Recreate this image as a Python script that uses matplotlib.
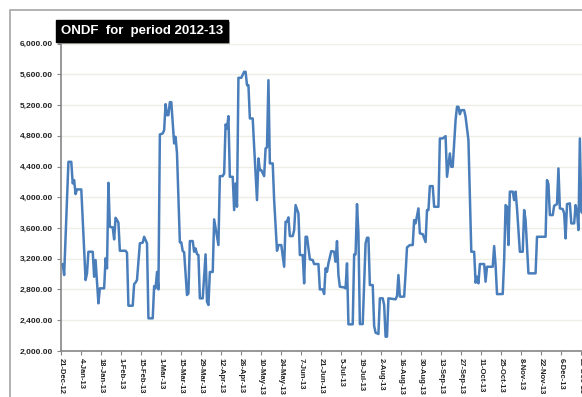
import pandas as pd
import matplotlib.pyplot as plt
from matplotlib.patches import Rectangle
import matplotlib.patheffects as pe

# days since 21-Dec-12 and ONDF values
days = [0, 1, 2, 5, 7, 8, 9, 10, 11, 14, 15, 17, 18, 19, 22, 23, 24, 26, 27, 30,
        31, 32, 33, 34, 36, 37, 38, 39, 40, 41, 45, 46, 47, 50, 51, 52, 53, 55, 57, 58,
        60, 61, 64, 65, 66, 67, 68, 69, 71, 72, 73, 74, 75, 76, 77, 79, 80, 81, 83, 84,
        85, 86, 88, 89, 90, 92, 93, 94, 95, 96, 97, 99, 101, 102, 103, 104, 106, 107, 109, 110,
        111, 113, 114, 115, 116, 117, 118, 120, 121, 122, 123, 124, 126, 128, 129, 130, 131, 132, 134, 135,
        137, 138, 139, 140, 142, 143, 144, 145, 146, 148, 149, 151, 152, 154, 156, 157, 158, 159, 160, 162,
        163, 164, 165, 166, 167, 169, 170, 171, 172, 174, 176, 177, 180, 181, 183, 184, 185, 186, 187, 189,
        191, 192, 193, 194, 195, 198, 199, 200, 201, 204, 205, 206, 207, 208, 209, 211, 213, 214, 215, 216,
        218, 219, 220, 222, 223, 225, 226, 227, 228, 229, 234, 235, 236, 237, 240, 241, 242, 244, 246, 247,
        248, 250, 251, 253, 255, 256, 257, 258, 260, 261, 264, 265, 267, 269, 270, 272, 273, 274, 276, 277,
        278, 279, 280, 282, 283, 285, 287, 289, 290, 291, 292, 293, 296, 297, 298, 302, 303, 304, 305, 309,
        310, 311, 312, 313, 314, 316, 317, 318, 319, 321, 323, 324, 325, 327, 332, 333, 339, 340, 341, 342,
        344, 345, 347, 348, 349, 351, 352, 353, 354, 356, 357, 359, 360, 361, 362, 363, 364, 365]
ondf = [3118, 3131, 2988, 4461, 4461, 4180, 4223, 4041, 4102, 4102, 3703, 2923, 3010, 3291, 3291, 2966, 3183, 2620, 2815, 2815,
        3205, 3075, 4188, 3616, 3608, 3452, 3733, 3703, 3668, 3304, 3304, 3278, 2589, 2589, 2871, 2890, 2923, 3400, 3410, 3486,
        3400, 2425, 2425, 2845, 2815, 3028, 2801, 4817, 4830, 4873, 5211, 5068, 5068, 5237, 5237, 4700, 4786, 4570, 3413, 3413,
        3300, 3285, 2728, 2750, 3430, 3430, 3291, 3335, 3261, 3248, 2685, 2685, 3257, 2641, 2598, 3028, 3028, 3712, 3486, 3378,
        4275, 4275, 4310, 4947, 4895, 5055, 4266, 4266, 3833, 4180, 3876, 5554, 5554, 5632, 5632, 5458, 5458, 5025, 5025, 4656,
        3963, 4505, 4353, 4353, 4275, 4635, 4650, 5523, 4440, 4440, 3963, 3304, 3378, 3378, 3096, 3681, 3681, 3738, 3495, 3495,
        3573, 3898, 3842, 3790, 3248, 3248, 2880, 3486, 3486, 3192, 3183, 3131, 3131, 2801, 2801, 2741, 3075, 3030, 3140, 3300,
        3291, 3161, 3430, 2988, 2836, 2827, 2815, 3140, 2347, 2347, 3257, 3257, 3911, 3530, 2350, 2350, 3400, 3473, 3473, 2858,
        2858, 2325, 2238, 2221, 2685, 2685, 2598, 2186, 2186, 2685, 2672, 2715, 2988, 2707, 2707, 3010, 3348, 3378, 3378, 3703,
        3660, 3855, 3530, 3520, 3417, 3833, 3833, 4145, 4145, 3876, 3876, 4765, 4765, 4795, 4266, 4570, 4396, 4396, 5003, 5177,
        5177, 5081, 5133, 5133, 5046, 4743, 3291, 3291, 2888, 2966, 2880, 3131, 3131, 2901, 3096, 3096, 3365, 3118, 2740, 2741,
        3183, 3898, 3876, 3378, 4073, 4073, 3963, 4073, 3855, 3291, 3291, 3833, 3703, 3010, 3010, 3486, 3486, 4223, 4171, 3768,
        3768, 3889, 3911, 4375, 3855, 3846, 3790, 3465, 3911, 3920, 3660, 3660, 3898, 3811, 3573, 4765, 3811, 3790]

start = pd.Timestamp("2012-12-21")
dates = start + pd.to_timedelta(days, unit="D")
tick_dates = [start + pd.Timedelta(days=14 * k) for k in range(27)]
tick_labels = [f"{d.day}-{d.strftime('%b-%y')}" for d in tick_dates]
y_ticks = [2000, 2400, 2800, 3200, 3600, 4000, 4400, 4800, 5200, 5600, 6000]

fig = plt.figure(figsize=(5.82, 3.97), dpi=100)
ax = fig.add_axes([0.1053, 0.1159, 0.8984, 0.7745])

# outer chart border (cut off at right and bottom like the reference)
fig.patches.append(Rectangle((10 / 582, -0.2), 1.2, 1.2 - 10 / 397,
                             transform=fig.transFigure, fill=False,
                             edgecolor="#a6a6a6", linewidth=1.2))

ax.plot(dates, ondf, color="#4a7ebb", linewidth=1.8)

ax.set_xlim(start, start + pd.Timedelta(days=366))
ax.set_ylim(2000, 6000)
ax.set_xticks(tick_dates)
ax.set_xticklabels(tick_labels, rotation=270, fontsize=5.5, fontweight="bold",
                   family="Liberation Sans", color="#222222")
ax.set_yticks(y_ticks)
ax.set_yticklabels([f"{v:,.2f}" for v in y_ticks], fontsize=6, fontweight="bold",
                   family="Liberation Sans", color="#222222")
ax.tick_params(axis="x", direction="out", length=3, color="#868686", pad=2)
ax.tick_params(axis="y", direction="out", length=3, color="#868686", pad=3)

ax.grid(axis="y", color="#efede4", linewidth=1)
ax.set_axisbelow(True)
for s in ["top", "right"]:
    ax.spines[s].set_visible(False)
for s in ["left", "bottom"]:
    ax.spines[s].set_color("#868686")
    ax.spines[s].set_linewidth(1.2)

# title box with a small shadow
title = fig.text(142 / 582, 1 - 31 / 397, "ONDF  for  period 2012-13", ha="center", va="center",
                 fontsize=9.5, fontweight="bold", family="Liberation Sans", color="white",
                 bbox=dict(boxstyle="square,pad=0.35", facecolor="black", edgecolor="black"))
title.get_bbox_patch().set_path_effects(
    [pe.SimplePatchShadow(offset=(1.5, -1.5), shadow_rgbFace="#999999", alpha=0.8), pe.Normal()])

plt.savefig("out.png", dpi=100)
